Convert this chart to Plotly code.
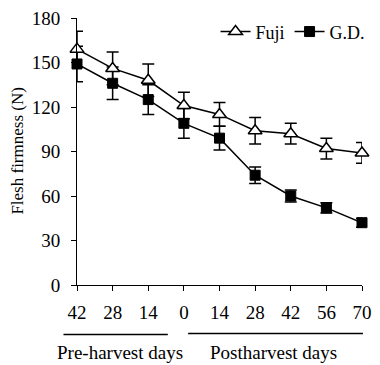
import plotly.graph_objects as go

categories = ["42", "28", "14", "0", "14", "28", "42", "56", "70"]
fuji = [159, 146, 138, 121, 115, 104, 102, 92, 89]
fuji_err = [12, 11, 11, 9, 8, 9, 7, 7, 7]
gd = [149, 136, 125, 109, 99, 74, 60, 52, 42]
gd_err = [12, 11, 10, 10, 8, 5.5, 4, 3.5, 3]

xs = list(range(len(categories)))
FONT = "Liberation Serif, Times New Roman, Times, serif"

fig = go.Figure()
fig.add_trace(go.Scatter(
    x=xs, y=gd, name="G.D.", mode="lines+markers",
    line=dict(color="black", width=1.5),
    marker=dict(symbol="square", size=10, color="black", line=dict(color="black", width=1)),
    error_y=dict(type="data", array=gd_err, color="black", thickness=1.5, width=6),
    cliponaxis=False, legendrank=2,
))
fig.add_trace(go.Scatter(
    x=xs, y=fuji, name="Fuji", mode="lines+markers",
    line=dict(color="black", width=1.5),
    marker=dict(symbol="triangle-up", size=12, color="white", line=dict(color="black", width=1.5)),
    error_y=dict(type="data", array=fuji_err, color="black", thickness=1.5, width=6),
    cliponaxis=False, legendrank=1,
))

W, H = 380, 365
L, R, T, B = 77, 8, 15, 80
pw, ph = W - L - R, H - T - B

def px(xp):
    return (xp - L) / pw

def py(yp):
    return (H - B - yp) / ph

fig.update_layout(
    width=W, height=H,
    margin=dict(l=L, r=R, t=T, b=B),
    paper_bgcolor="white", plot_bgcolor="white",
    font=dict(family=FONT, size=18, color="black"),
    showlegend=True,
    legend=dict(orientation="h", x=1.03, xanchor="right", y=py(29), yanchor="middle",
                font=dict(family=FONT, size=18), bgcolor="rgba(0,0,0,0)", itemwidth=30,
                tracegroupgap=0),
    xaxis=dict(range=[0, 8], tickvals=xs, ticktext=categories, showline=True,
               linecolor="black", linewidth=1, ticks="outside", ticklen=5,
               tickcolor="black", showgrid=False, zeroline=False,
               ticklabelstandoff=5,
               tickfont=dict(family=FONT, size=19)),
    yaxis=dict(range=[0, 180], dtick=30, showline=True, linecolor="black", linewidth=1,
               ticks="outside", ticklen=5, tickcolor="black", showgrid=False,
               zeroline=False, ticklabelstandoff=7, tickfont=dict(family=FONT, size=19)),
    shapes=[
        dict(type="line", xref="paper", yref="paper", x0=px(63), x1=px(171),
             y0=py(335), y1=py(335), line=dict(color="black", width=1.5)),
        dict(type="line", xref="paper", yref="paper", x0=px(192), x1=px(373),
             y0=py(334), y1=py(334), line=dict(color="black", width=1.5)),
    ],
    annotations=[
        dict(text="Pre-harvest days", xref="paper", yref="paper", x=px(122), y=py(353),
             showarrow=False, xanchor="center", yanchor="middle",
             font=dict(family=FONT, size=19)),
        dict(text="Postharvest days", xref="paper", yref="paper", x=px(280), y=py(353),
             showarrow=False, xanchor="center", yanchor="middle",
             font=dict(family=FONT, size=19)),
        dict(text="Flesh firmness (N)", xref="paper", yref="paper", x=px(15), y=py(150),
             showarrow=False, xanchor="center", yanchor="middle", textangle=-90,
             font=dict(family=FONT, size=17)),
    ],
)

fig.write_html("out.html")
